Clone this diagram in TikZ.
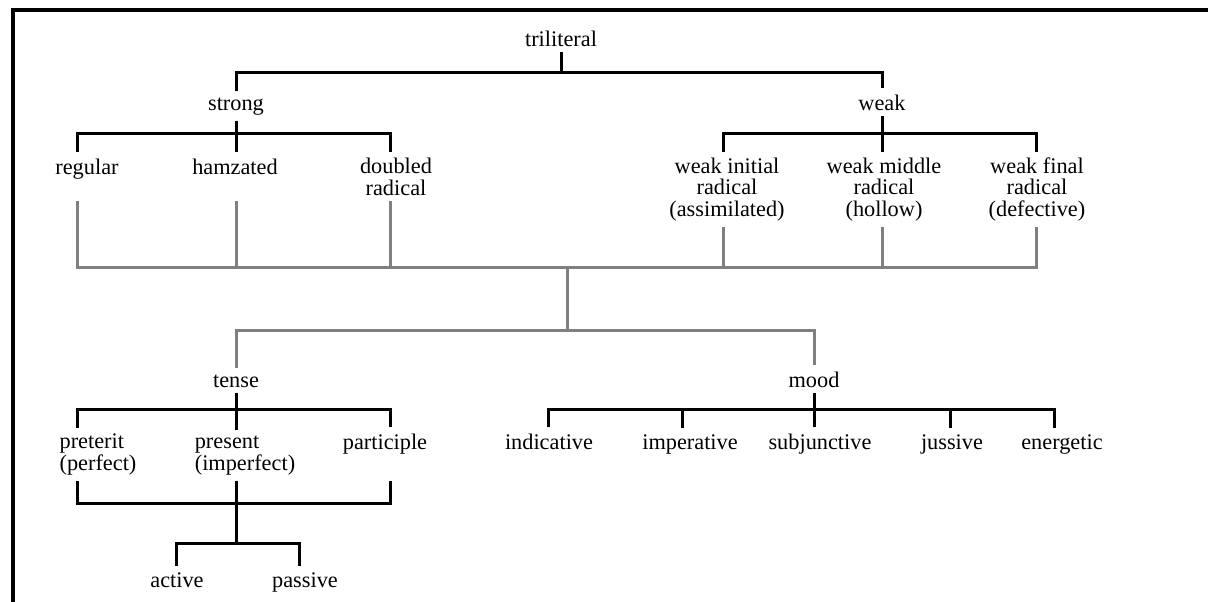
\documentclass[tikz,border=0pt]{standalone}
\usepackage{fontspec}
\setmainfont{Liberation Serif}
\definecolor{mergegray}{RGB}{128,128,128}
\newcommand{\lblfont}{\fontsize{12.7}{12}\selectfont}
\tikzset{
	lbl/.style={font=\lblfont, inner sep=0pt, outer ysep=3.5pt, anchor=base, align=center},
	branch/.style={line width=0.06cm},
	merge/.style={line width=0.06cm, draw=mergegray}
}
\begin{document}
\lineskiplimit=-5pt
\begin{tikzpicture}[x=0.02cm, y=-0.02cm]
	\useasboundingbox (0,0) rectangle (1208,602);
	%frame
	\draw[line width=0.09cm] (13,602) -- (13,10) -- (1208,10);
	
	%levels and columns
	\coordinate (lv1) at (0,72);
	\coordinate (lv2) at (0,133);
	\coordinate (lv3) at (0,267);
	\coordinate (lv4) at (0,330);
	\coordinate (lv5) at (0,409);
	\coordinate (lv6) at (0,503);
	\coordinate (lv7) at (0,543);
	\coordinate (c1) at (77,0);
	\coordinate (c2) at (236,0);
	\coordinate (c3) at (390,0);
	\coordinate (w1) at (723,0);
	\coordinate (w2) at (882,0);
	\coordinate (w3) at (1036,0);
	\coordinate (trunk) at (567,0);
	\coordinate (a1) at (176,0);
	\coordinate (a2) at (299,0);
	\coordinate (m1) at (548,0);
	\coordinate (m2) at (682,0);
	\coordinate (m3) at (814,0);
	\coordinate (m4) at (950,0);
	\coordinate (m5) at (1054,0);
	
	%root
	\node[lbl] (tril) at (561,46) {triliteral};
	\node[lbl] (strong) at (236,110) {strong};
	\node[lbl] (weak) at (882,110) {weak};
	\draw[branch] (tril.south) -- (tril |- lv1);
	\draw[branch] (strong.north) |- (weak.north |- lv1) -- (weak.north);
	
	%strong (multi-line nodes sit on their last line)
	\node[lbl] (regular) at (87,174) {regular};
	\node[lbl] (hamz) at (235,174) {hamzated};
	\node[lbl] (doubled) at (396,195) {doubled\\radical};
	\draw[branch] (strong.south) -- (c2 |- lv2);
	\draw[branch] (regular.north -| c1) |- (c3 |- lv2) -- (doubled.north -| c3);
	\draw[branch] (hamz.north -| c2) -- (c2 |- lv2);
	
	%weak
	\node[lbl] (winit) at (727,216) {weak initial\\radical\\(assimilated)};
	\node[lbl] (wmid) at (884,216) {weak middle\\radical\\(hollow)};
	\node[lbl] (wfin) at (1037,216) {weak final\\radical\\(defective)};
	\draw[branch] (weak.south) -- (w2 |- lv2);
	\draw[branch] (winit.north -| w1) |- (w3 |- lv2) -- (wfin.north -| w3);
	\draw[branch] (wmid.north -| w2) -- (w2 |- lv2);
	
	%merge
	\draw[merge] (doubled.south -| c1) |- (w3 |- lv3) -- (wfin.south -| w3);
	\draw[merge] (doubled.south -| c2) -- (c2 |- lv3);
	\draw[merge] (doubled.south -| c3) -- (c3 |- lv3);
	\draw[merge] (winit.south -| w1) -- (w1 |- lv3);
	\draw[merge] (wmid.south -| w2) -- (w2 |- lv3);
	\draw[merge] (trunk |- lv3) -- (trunk |- lv4);
	
	%split
	\node[lbl] (tense) at (236,387) {tense};
	\node[lbl] (mood) at (814,387) {mood};
	\draw[merge] (tense.north) |- (mood.north |- lv4) -- (mood.north);
	
	%tense
	\node[lbl, align=left] (preterit) at (98,470) {preterit\\(perfect)};
	\node[lbl, align=left] (present) at (245,470) {present\\(imperfect)};
	\node[lbl] (particip) at (385,449) {participle};
	\draw[branch] (tense.south) -- (c2 |- lv5);
	\draw[branch] (preterit.north -| c1) |- (c3 |- lv5) -- (particip.north -| c3);
	\draw[branch] (present.north -| c2) -- (c2 |- lv5);
	\draw[branch] (preterit.south -| c1) |- (c3 |- lv6) -- (preterit.south -| c3);
	\draw[branch] (present.south -| c2) -- (c2 |- lv7);
	
	%voice
	\node[lbl] (active) at (177,587) {active};
	\node[lbl] (passive) at (305,587) {passive};
	\draw[branch] (active.north -| a1) |- (a2 |- lv7) -- (passive.north -| a2);
	
	%mood
	\node[lbl] (indic) at (549,449) {indicative};
	\node[lbl] (imper) at (690,449) {imperative};
	\node[lbl] (subj) at (820,449) {subjunctive};
	\node[lbl] (juss) at (952,449) {jussive};
	\node[lbl] (energ) at (1062,449) {energetic};
	\draw[branch] (mood.south) -- (m3 |- lv5);
	\draw[branch] (indic.north -| m1) |- (m5 |- lv5) -- (energ.north -| m5);
	\draw[branch] (imper.north -| m2) -- (m2 |- lv5);
	\draw[branch] (subj.north -| m3) -- (m3 |- lv5);
	\draw[branch] (juss.north -| m4) -- (m4 |- lv5);
\end{tikzpicture}
\end{document}
